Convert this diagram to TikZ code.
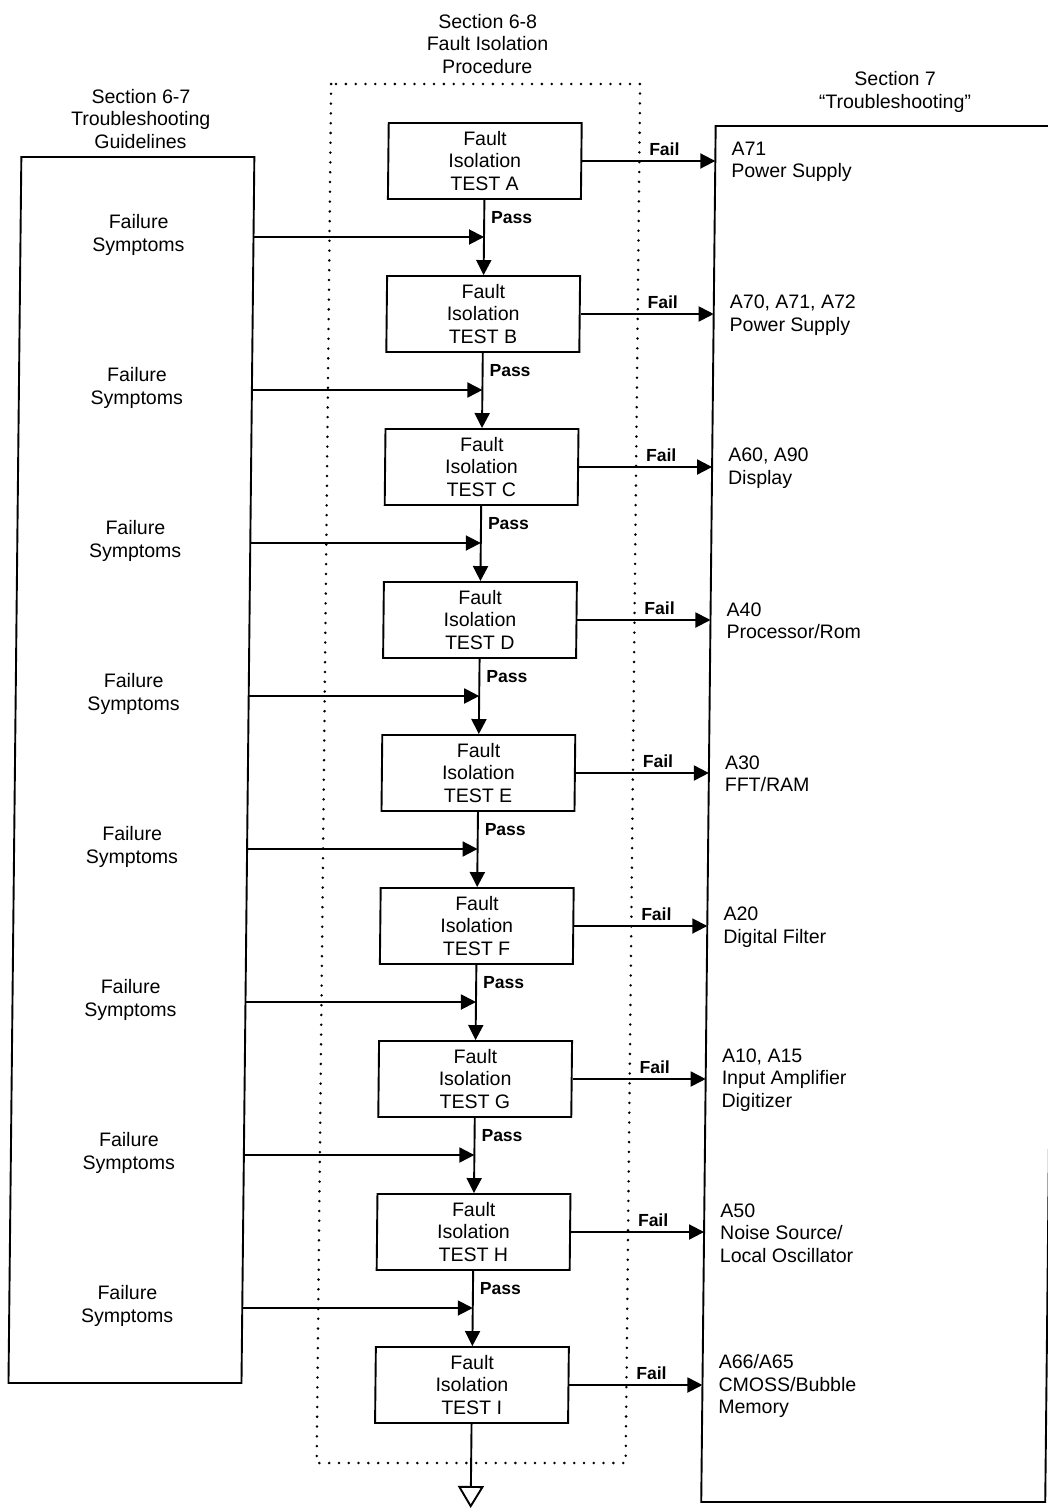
\documentclass[tikz,border=0pt]{standalone}
\usepackage{fontspec}
\setmainfont{Liberation Sans}
\usetikzlibrary{arrows.meta}
\begin{document}
\begin{tikzpicture}[x=1pt,y=-1pt,
  every node/.style={font=\fontsize{19.5}{22.5}\selectfont, inner sep=0pt},
  testbox/.style={draw, line width=1.9pt, minimum width=193pt, minimum height=76pt, align=center},
  bigbox/.style={draw, line width=1.9pt},
  flow/.style={line width=1.9pt, -{Triangle[length=15pt,width=15pt]}},
  lbl/.style={font=\fontsize{17.5}{20}\selectfont\bfseries},
  dotframe/.style={line width=2.8pt, line cap=round, dash pattern=on 0pt off 9.8pt},
  rtext/.style={anchor=west, align=left},
]
\useasboundingbox (0,0) rectangle (1048,1510);
\clip (0,0) rectangle (1048,1510);
\begin{scope}[xslant=0.0105, transform shape]
  % section titles
  \node[align=center] (t67) at (142,119) {Section 6-7\\Troubleshooting\\Guidelines};
  \node[align=center] (t68) at (488,44) {Section 6-8\\Fault Isolation\\Procedure};
  \node[align=center] (t7) at (896,92) {Section 7\\``Troubleshooting''};
  % containers
  \node[bigbox, minimum width=233pt, minimum height=1226pt] (guide) at (139.5,770) {};
  \node[bigbox, minimum width=344pt, minimum height=1376pt] (trbl) at (889,814) {};
  \draw[dotframe] (332,84) rectangle (641,1463);
  % tests
  \foreach \L/\rt [count=\i from 0] in {
      A/{A71\\Power Supply},
      B/{A70, A71, A72\\Power Supply},
      C/{A60, A90\\Display},
      D/{A40\\Processor/Rom},
      E/{A30\\FFT/RAM},
      F/{A20\\Digital Filter},
      G/{A10, A15\\Input Amplifier\\Digitizer},
      H/{A50\\Noise Source/\\Local Oscillator},
      I/{A66/A65\\CMOSS/Bubble\\Memory}} {
    \pgfmathsetmacro\yc{161+153*\i}
    \node[testbox] (T\L) at (486.5,\yc) {Fault\\Isolation\\TEST \L};
    \coordinate (R\L) at (717,\yc);
    \draw[flow] (T\L.east) -- (R\L);
    \node[lbl] (fail\L) at (666,{\yc-12}) {Fail};
    \node[rtext] (S\L) at (733,{\yc+1}) {\rt};
  }
  \foreach \a/\b [count=\i from 0] in {A/B,B/C,C/D,D/E,E/F,F/G,G/H,H/I} {
    \pgfmathsetmacro\ya{237+153*\i}
    \coordinate (J\a) at (486.5,\ya);
    \coordinate (G\a) at (256,\ya);
    \draw[flow] (T\a.south) -- (T\b.north);
    \draw[flow] (G\a) -- (J\a);
    \node[lbl] (pass\a) at (514,{218+153*\i}) {Pass};
    \node[align=center] (F\a) at (141,{\ya-2}) {Failure\\Symptoms};
  }
  \coordinate (out) at (486.5,1508);
  \draw[line width=1.9pt, -{Triangle[open,length=22pt,width=26pt]}] (TI.south) -- (out);
\end{scope}
\end{tikzpicture}
\end{document}
